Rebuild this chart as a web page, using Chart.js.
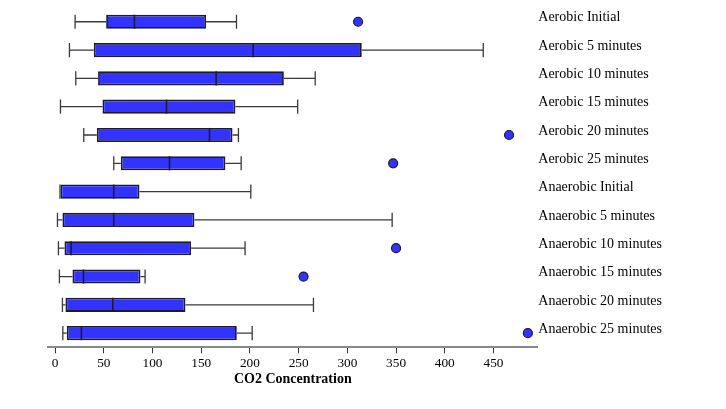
<!DOCTYPE html>
<html>
<head>
<meta charset="utf-8">
<script src="https://cdn.jsdelivr.net/npm/chart.js@4.4.1/dist/chart.umd.min.js"></script>
<style>
  html, body { margin: 0; padding: 0; background: #fff; }
  #wrap { width: 726px; height: 409px; position: relative; }
</style>
</head>
<body>
<div id="wrap"><canvas id="chart"></canvas></div>
<script>
// Box plot data
const categories = [
    'Aerobic Initial', 'Aerobic 5 minutes', 'Aerobic 10 minutes', 'Aerobic 15 minutes',
    'Aerobic 20 minutes', 'Aerobic 25 minutes', 'Anaerobic Initial', 'Anaerobic 5 minutes',
    'Anaerobic 10 minutes', 'Anaerobic 15 minutes', 'Anaerobic 20 minutes', 'Anaerobic 25 minutes'
];
const whiskerLow  = [20.5, 14.7, 21.2,   5.5,  29.4,  60.2,   5.0,   2.4,   3.4,  4.4,   7.5,   7.9];
const quartile1   = [52.4, 39.7, 44.1,  48.6,  42.8,  67.4,   5.5,   7.5,   9.6, 17.8,  10.6,  12.0];
const medians     = [81.4, 203.3, 165.3, 114.3, 158.5, 117.4, 60.2,  60.2,  16.4, 29.1,  59.2,  27.0];
const quartile3   = [155.0, 314.8, 234.8, 185.1, 182.1, 174.8, 86.6, 143.0, 139.6, 87.6, 133.8, 186.5];
const whiskerHigh = [186.2, 439.5, 267.0, 249.0, 188.2, 191.0, 200.9, 346.0, 195.0, 92.4, 265.2, 202.3];
const outliers = [
    { cat: 'Aerobic Initial', value: 311 },
    { cat: 'Aerobic 20 minutes', value: 466 },
    { cat: 'Aerobic 25 minutes', value: 347 },
    { cat: 'Anaerobic 10 minutes', value: 350 },
    { cat: 'Anaerobic 15 minutes', value: 255 },
    { cat: 'Anaerobic 25 minutes', value: 485.3 }
];
const xTickValues = [0, 50, 100, 150, 200, 250, 300, 350, 400, 450];

const BOX_FILL = '#3333ff';
const BOX_LINE = '#1c1c2e';
const WHISKER = '#3a3a3a';

// Whiskers, caps and median lines, positioned by the chart's scales
const boxExtras = {
    id: 'boxExtras',
    afterDatasetsDraw(chart) {
        const ctx = chart.ctx;
        const xs = chart.scales.x;
        const meta = chart.getDatasetMeta(0);
        ctx.save();
        meta.data.forEach((bar, i) => {
            const y = bar.y;
            const h = bar.height;
            const xl = xs.getPixelForValue(whiskerLow[i]);
            const x1 = xs.getPixelForValue(quartile1[i]);
            const x3 = xs.getPixelForValue(quartile3[i]);
            const xh = xs.getPixelForValue(whiskerHigh[i]);
            const xm = xs.getPixelForValue(medians[i]);
            ctx.strokeStyle = WHISKER;
            ctx.lineWidth = 1.3;
            ctx.beginPath();
            ctx.moveTo(xl, y); ctx.lineTo(x1, y);
            ctx.moveTo(x3, y); ctx.lineTo(xh, y);
            ctx.moveTo(xl, y - h / 2); ctx.lineTo(xl, y + h / 2);
            ctx.moveTo(xh, y - h / 2); ctx.lineTo(xh, y + h / 2);
            ctx.stroke();
            ctx.strokeStyle = BOX_LINE;
            ctx.lineWidth = 1.6;
            ctx.beginPath();
            ctx.moveTo(xm, y - h / 2); ctx.lineTo(xm, y + h / 2);
            ctx.stroke();
        });
        ctx.restore();
    }
};

new Chart(document.getElementById('chart'), {
    data: {
        labels: categories,
        datasets: [
            {
                type: 'bar',
                indexAxis: 'y',
                data: quartile1.map((q, i) => [q, quartile3[i]]),
                backgroundColor: BOX_FILL,
                borderColor: BOX_LINE,
                borderWidth: 1.8,
                borderSkipped: false,
                barPercentage: 0.5,
                categoryPercentage: 1.0
            },
            {
                type: 'scatter',
                data: outliers.map(o => ({ x: o.value, y: o.cat })),
                backgroundColor: BOX_FILL,
                borderColor: BOX_LINE,
                borderWidth: 1.2,
                pointRadius: 4.5
            }
        ]
    },
    options: {
        responsive: true,
        maintainAspectRatio: false,
        animation: false,
        layout: { padding: { left: 48.3, top: 7.6, right: 0, bottom: 0 } },
        plugins: { legend: { display: false }, tooltip: { enabled: false } },
        scales: {
            x: {
                type: 'linear',
                position: 'bottom',
                min: -7,
                max: 495,
                afterBuildTicks: (scale) => { scale.ticks = xTickValues.map(v => ({ value: v })); },
                afterFit: (scale) => { scale.height = 61.7; scale.paddingLeft = 0; scale.paddingRight = 0; },
                grid: { drawOnChartArea: false, drawTicks: true, tickLength: 6, color: '#333', lineWidth: 1 },
                border: { display: true, color: '#888', width: 2 },
                ticks: {
                    color: '#000',
                    padding: 2,
                    maxRotation: 0,
                    font: { family: '"Liberation Serif", "Times New Roman", serif', size: 13.3 }
                },
                title: {
                    display: true,
                    text: 'CO2 Concentration',
                    color: '#000',
                    padding: { top: 0, bottom: 21 },
                    font: { family: '"Liberation Serif", "Times New Roman", serif', size: 14, weight: 'bold' }
                }
            },
            y: {
                type: 'category',
                position: 'right',
                offset: true,
                afterFit: (scale) => { scale.width = 188.7; scale.paddingTop = 0; scale.paddingBottom = 0; },
                grid: { display: false, drawTicks: false },
                border: { display: false },
                ticks: {
                    color: '#000',
                    padding: 1,
                    labelOffset: -4,
                    font: { family: '"Liberation Serif", "Times New Roman", serif', size: 14 }
                }
            }
        }
    },
    plugins: [boxExtras]
});
</script>
</body>
</html>
